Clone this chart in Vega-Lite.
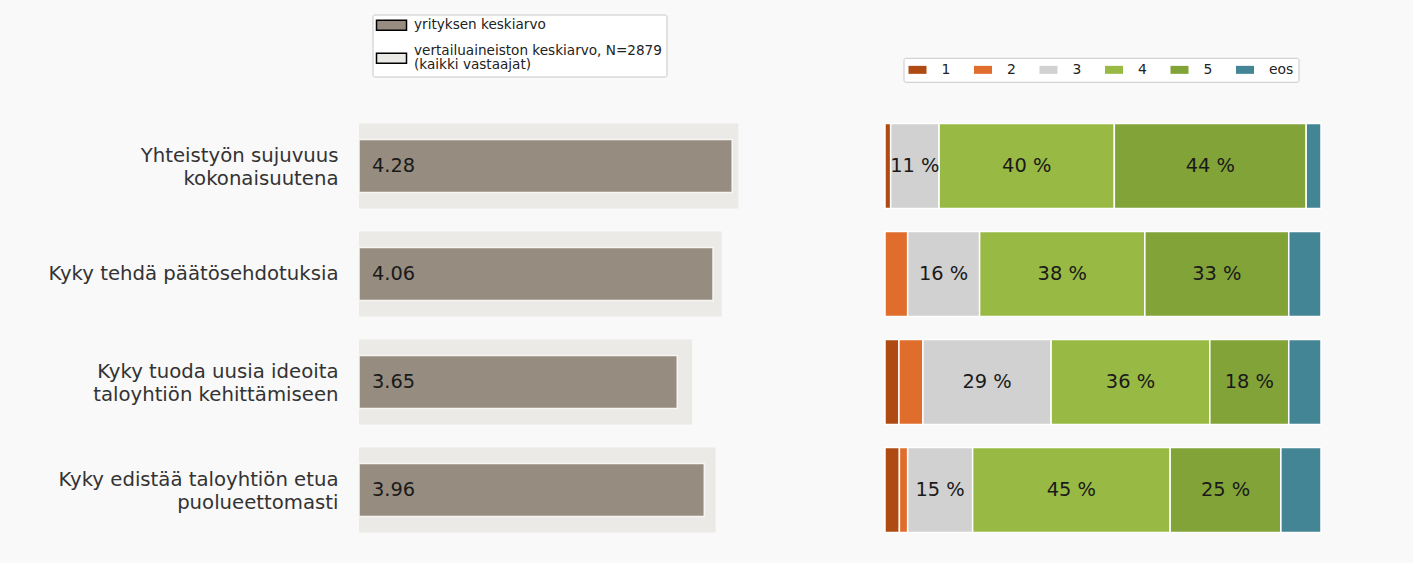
{
  "$schema": "https://vega.github.io/schema/vega-lite/v6.json",
  "background": "#f9f9f9",
  "padding": {"left": 47, "top": 14, "right": 91, "bottom": 19},
  "bounds": "flush",
  "spacing": 90,
  "config": {"view": {"stroke": null}, "font": "DejaVu Sans"},
  "resolve": {"scale": {"color": "independent", "x": "independent"}, "legend": {"color": "independent"}},
  "hconcat": [
    {
      "width": 436,
      "height": 432,
      "data": {"values": [
        {"item": "Yhteistyön sujuvuus|kokonaisuutena", "kind": "ref", "series": "vertailuaineiston keskiarvo, N=2879|(kaikki vastaajat)", "value": 4.35},
        {"item": "Kyky tehdä päätösehdotuksia", "kind": "ref", "series": "vertailuaineiston keskiarvo, N=2879|(kaikki vastaajat)", "value": 4.16},
        {"item": "Kyky tuoda uusia ideoita|taloyhtiön kehittämiseen", "kind": "ref", "series": "vertailuaineiston keskiarvo, N=2879|(kaikki vastaajat)", "value": 3.82},
        {"item": "Kyky edistää taloyhtiön etua|puolueettomasti", "kind": "ref", "series": "vertailuaineiston keskiarvo, N=2879|(kaikki vastaajat)", "value": 4.09},
        {"item": "Yhteistyön sujuvuus|kokonaisuutena", "kind": "company", "series": "yrityksen keskiarvo", "value": 4.28},
        {"item": "Kyky tehdä päätösehdotuksia", "kind": "company", "series": "yrityksen keskiarvo", "value": 4.06},
        {"item": "Kyky tuoda uusia ideoita|taloyhtiön kehittämiseen", "kind": "company", "series": "yrityksen keskiarvo", "value": 3.65},
        {"item": "Kyky edistää taloyhtiön etua|puolueettomasti", "kind": "company", "series": "yrityksen keskiarvo", "value": 3.96}
      ]},
      "encoding": {
        "y": {
          "field": "item", "type": "nominal",
          "scale": {"domain": ["Yhteistyön sujuvuus|kokonaisuutena", "Kyky tehdä päätösehdotuksia", "Kyky tuoda uusia ideoita|taloyhtiön kehittämiseen", "Kyky edistää taloyhtiön etua|puolueettomasti"], "paddingInner": 0, "paddingOuter": 0},
          "axis": {
            "title": null, "domain": false, "ticks": false, "labelPadding": 21, "labelFontSize": 19.7, "labelColor": "#333333", "labelFont": "DejaVu Sans",
            "labelExpr": "split(datum.label, '|')", "labelLineHeight": 23.3, "labelLimit": 500,
            "labelOffset": {"condition": {"test": "indexof(datum.value, '|') >= 0", "value": -10.5}, "value": 0}
          }
        }
      },
      "layer": [
        {
          "transform": [{"filter": "datum.kind === 'ref'"}],
          "mark": {"type": "bar", "height": 85},
          "encoding": {
            "x": {"field": "value", "type": "quantitative", "scale": {"domain": [0, 5], "nice": false}, "axis": null},
            "color": {
              "field": "series", "type": "nominal",
              "scale": {"domain": ["yrityksen keskiarvo", "vertailuaineiston keskiarvo, N=2879|(kaikki vastaajat)"], "range": ["#968c80", "#ebeae6"]},
              "legend": {
                "orient": "none", "legendX": 13.5, "legendY": -97.5, "title": null,
                "fillColor": "white", "strokeColor": "#c8c8c8", "padding": 4, "cornerRadius": 2,
                "gridAlign": "none",
                "symbolType": "M-3,-1H3V1H-3Z", "symbolSize": 100, "symbolOffset": 8.2,
                "symbolStrokeColor": "black", "symbolStrokeWidth": 1.5,
                "labelFontSize": 13.6, "labelFont": "DejaVu Sans", "labelOffset": 15.7, "labelColor": "#222222",
                "rowPadding": 10, "labelLimit": 500,
                "labelExpr": "split(datum.label, '|')",
                "encode": {
                  "labels": {"update": {"lineHeight": {"value": 14}, "dy": {"signal": "indexof(datum.label, '|') >= 0 ? -7 : 0"}}},
                  "symbols": {"update": {"stroke": {"value": "black"}, "strokeWidth": {"value": 1.5}, "opacity": {"value": 1}}}
                }
              }
            }
          }
        },
        {
          "transform": [{"filter": "datum.kind === 'company'"}],
          "mark": {"type": "bar", "height": 53, "stroke": "#f6f6f4", "strokeWidth": 1.5},
          "encoding": {
            "x": {"field": "value", "type": "quantitative"},
            "color": {"field": "series", "type": "nominal"}
          }
        },
        {
          "transform": [{"filter": "datum.kind === 'company'"}],
          "mark": {"type": "text", "align": "left", "baseline": "middle", "dx": 13, "fontSize": 19.4, "color": "#1a1a1a", "font": "DejaVu Sans"},
          "encoding": {
            "x": {"datum": 0, "type": "quantitative"},
            "text": {"field": "value", "type": "quantitative", "format": ".2f"}
          }
        }
      ]
    },
    {
      "width": 436,
      "height": 432,
      "data": {"values": [
        {"item": "Yhteistyön sujuvuus|kokonaisuutena", "cat": "1", "pct": 1.3, "label": ""},
        {"item": "Yhteistyön sujuvuus|kokonaisuutena", "cat": "3", "pct": 11.1, "label": "11 %"},
        {"item": "Yhteistyön sujuvuus|kokonaisuutena", "cat": "4", "pct": 40.2, "label": "40 %"},
        {"item": "Yhteistyön sujuvuus|kokonaisuutena", "cat": "5", "pct": 44.0, "label": "44 %"},
        {"item": "Yhteistyön sujuvuus|kokonaisuutena", "cat": "eos", "pct": 3.4, "label": ""},
        {"item": "Kyky tehdä päätösehdotuksia", "cat": "2", "pct": 5.2, "label": ""},
        {"item": "Kyky tehdä päätösehdotuksia", "cat": "3", "pct": 16.5, "label": "16 %"},
        {"item": "Kyky tehdä päätösehdotuksia", "cat": "4", "pct": 37.9, "label": "38 %"},
        {"item": "Kyky tehdä päätösehdotuksia", "cat": "5", "pct": 33.0, "label": "33 %"},
        {"item": "Kyky tehdä päätösehdotuksia", "cat": "eos", "pct": 7.4, "label": ""},
        {"item": "Kyky tuoda uusia ideoita|taloyhtiön kehittämiseen", "cat": "1", "pct": 3.2, "label": ""},
        {"item": "Kyky tuoda uusia ideoita|taloyhtiön kehittämiseen", "cat": "2", "pct": 5.5, "label": ""},
        {"item": "Kyky tuoda uusia ideoita|taloyhtiön kehittämiseen", "cat": "3", "pct": 29.4, "label": "29 %"},
        {"item": "Kyky tuoda uusia ideoita|taloyhtiön kehittämiseen", "cat": "4", "pct": 36.4, "label": "36 %"},
        {"item": "Kyky tuoda uusia ideoita|taloyhtiön kehittämiseen", "cat": "5", "pct": 18.1, "label": "18 %"},
        {"item": "Kyky tuoda uusia ideoita|taloyhtiön kehittämiseen", "cat": "eos", "pct": 7.4, "label": ""},
        {"item": "Kyky edistää taloyhtiön etua|puolueettomasti", "cat": "1", "pct": 3.3, "label": ""},
        {"item": "Kyky edistää taloyhtiön etua|puolueettomasti", "cat": "2", "pct": 1.9, "label": ""},
        {"item": "Kyky edistää taloyhtiön etua|puolueettomasti", "cat": "3", "pct": 14.9, "label": "15 %"},
        {"item": "Kyky edistää taloyhtiön etua|puolueettomasti", "cat": "4", "pct": 45.3, "label": "45 %"},
        {"item": "Kyky edistää taloyhtiön etua|puolueettomasti", "cat": "5", "pct": 25.4, "label": "25 %"},
        {"item": "Kyky edistää taloyhtiön etua|puolueettomasti", "cat": "eos", "pct": 9.2, "label": ""}
      ]},
      "encoding": {
        "y": {
          "field": "item", "type": "nominal",
          "scale": {"domain": ["Yhteistyön sujuvuus|kokonaisuutena", "Kyky tehdä päätösehdotuksia", "Kyky tuoda uusia ideoita|taloyhtiön kehittämiseen", "Kyky edistää taloyhtiön etua|puolueettomasti"], "paddingInner": 0, "paddingOuter": 0},
          "axis": null
        }
      },
      "layer": [
        {
          "mark": {"type": "bar", "height": 85, "stroke": "#ffffff", "strokeWidth": 1.5},
          "encoding": {
            "x": {"field": "pct", "type": "quantitative", "stack": "zero", "scale": {"domain": [0, 100], "nice": false}, "axis": null},
            "order": {"field": "cat", "type": "ordinal", "sort": "ascending"},
            "color": {
              "field": "cat", "type": "nominal",
              "scale": {"domain": ["1", "2", "3", "4", "5", "eos"], "range": ["#ae4a12", "#e06d2c", "#d1d1d1", "#98b944", "#82a337", "#438595"]},
              "legend": {
                "orient": "none", "legendX": 18.5, "legendY": -54.2, "title": null,
                "direction": "horizontal", "columns": 6,
                "fillColor": "white", "strokeColor": "#c8c8c8", "padding": 5, "cornerRadius": 2,
                "symbolType": "M-1.286,-0.571H1.286V0.571H-1.286Z", "symbolSize": 196, "symbolOffset": 2, "symbolStrokeWidth": 0,
                "labelFontSize": 13.9, "labelFont": "DejaVu Sans", "labelOffset": 17, "labelColor": "#222222",
                "columnPadding": 22.5,
                "encode": {"symbols": {"update": {"strokeWidth": {"value": 0}, "opacity": {"value": 1}}}}
              }
            }
          }
        },
        {
          "mark": {"type": "text", "align": "center", "baseline": "middle", "fontSize": 19.4, "color": "#1a1a1a", "font": "DejaVu Sans"},
          "encoding": {
            "x": {"field": "pct", "type": "quantitative", "stack": "zero", "bandPosition": 0.5},
            "order": {"field": "cat", "type": "ordinal", "sort": "ascending"},
            "text": {"field": "label", "type": "nominal"}
          }
        }
      ]
    }
  ]
}
